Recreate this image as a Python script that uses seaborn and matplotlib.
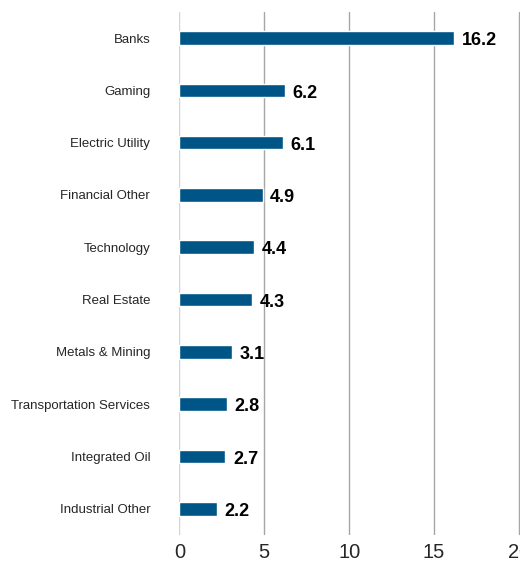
import pandas as pd
import matplotlib.pyplot as plt
import seaborn as sns

# -------------------------------
# Data
# -------------------------------
sectors = ["Banks", "Gaming", "Electric Utility", "Financial Other", "Technology",
           "Real Estate", "Metals & Mining", "Transportation Services",
           "Integrated Oil", "Industrial Other"]
values = [16.2, 6.2, 6.1, 4.9, 4.4, 4.3, 3.1, 2.8, 2.7, 2.2]
x_ticks = [0, 5, 10, 15, 20]

df = pd.DataFrame({"Sector": sectors, "Value": values})

sns.set_style("white")
plt.rcParams["font.family"] = ["Liberation Sans Narrow", "Liberation Sans", "DejaVu Sans"]

# -------------------------------
# Plot
# -------------------------------
fig = plt.figure(figsize=(5.2, 5.69), dpi=100)
ax = fig.add_axes([0.345, 0.06, 0.655, 0.919])

sns.barplot(data=df, x="Value", y="Sector", orient="h", color="#005587",
            saturation=1, width=0.26, ax=ax, zorder=3)

ax.set_xlim(0, 20.06)
ax.set_ylim(9.5, -0.5)
ax.set_xticks(x_ticks)
ax.set_xticklabels([str(t) for t in x_ticks], fontsize=14.5)
ax.tick_params(axis="y", labelsize=9.5, length=0, pad=21)
ax.tick_params(axis="x", length=0, pad=6)
ax.set_xlabel("")
ax.set_ylabel("")

for s in ax.spines.values():
    s.set_visible(False)

for t in x_ticks:
    ax.axvline(t, color="#d4d4d4" if t == 0 else "#a6a6a6", lw=1, zorder=1)

for i, v in enumerate(values):
    ax.text(v + 0.45, i + 0.05, f"{v:.1f}", va="center", ha="left",
            fontsize=13, fontweight="bold", color="black")

plt.savefig("out.png", dpi=100)
